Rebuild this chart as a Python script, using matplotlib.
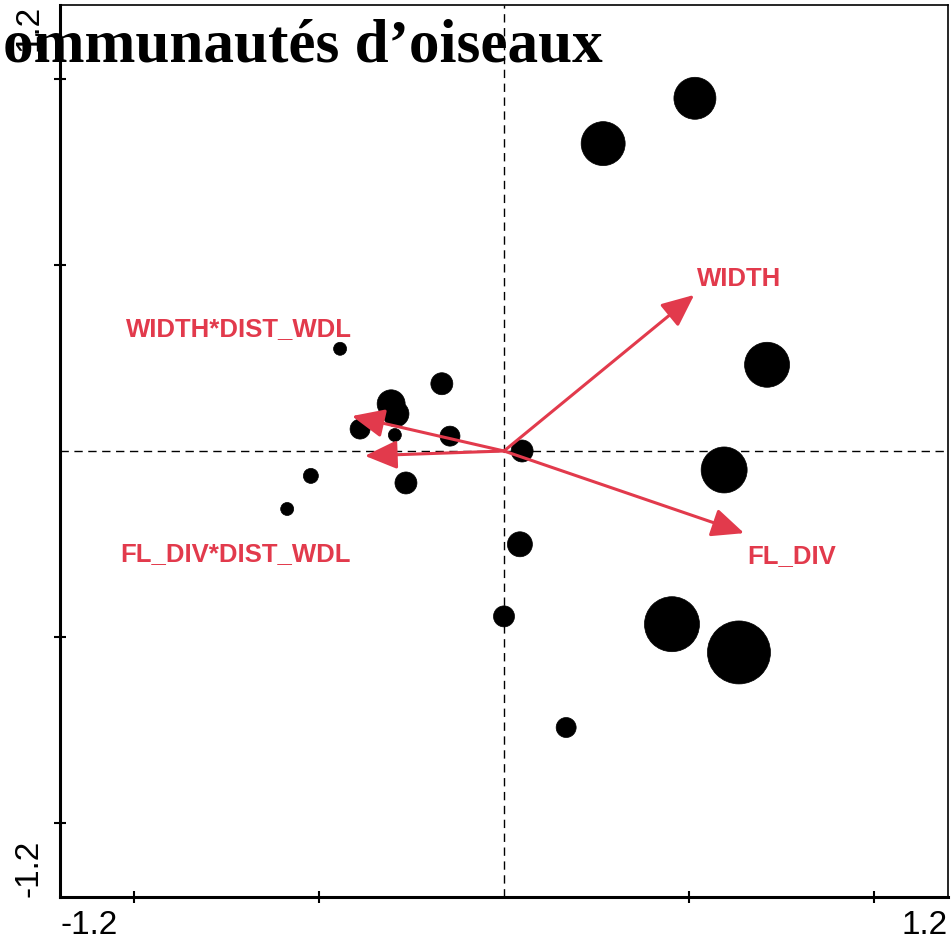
import numpy as np
import matplotlib
matplotlib.use("Agg")
import matplotlib.pyplot as plt

# sample scores (axis 1, axis 2) and symbol diameters (px)
site_x = [0.516, 0.268, 0.711, 0.595, 0.454, 0.635, 0.043, 0.000, 0.168, 0.049,
          -0.168, -0.305, -0.292, -0.389, -0.295, -0.146, -0.265, -0.443, -0.522, -0.586]
site_y = [0.949, 0.827, 0.232, -0.051, -0.466, -0.542, -0.251, -0.445, -0.744, 0.000,
          0.181, 0.127, 0.100, 0.059, 0.043, 0.040, -0.086, 0.275, -0.067, -0.156]
site_size = [42, 44, 45, 46, 55, 63, 25, 21, 20, 22,
             22, 28, 26, 20, 13, 20, 22, 13, 15, 13]

# environmental variables (arrow tips)
env_names = ["WIDTH", "FL_DIV", "WIDTH*DIST_WDL", "FL_DIV*DIST_WDL"]
env_x = [0.514, 0.649, -0.411, -0.376]
env_y = [0.420, -0.221, 0.094, -0.013]

axis_min, axis_max = -1.2, 1.2
title = "ommunautés d\u2019oiseaux"

RED = "#e23a4c"
DPI = 100

fig = plt.figure(figsize=(9.52, 9.48), dpi=DPI)
ax = fig.add_axes([60 / 952, 51 / 948, 888 / 952, 892 / 948])
ax.set_xlim(axis_min, axis_max)
ax.set_ylim(axis_min, axis_max)

# dashed zero lines
ax.axhline(0, color="black", lw=1.0, dashes=(6, 4), zorder=1)
ax.axvline(0, color="black", lw=1.0, dashes=(6, 4), zorder=1)

# sites, symbol area from diameter in px
sizes = [(d * 72 / DPI) ** 2 for d in site_size]
ax.scatter(site_x, site_y, s=sizes, c="black", edgecolors="black", linewidths=0.5, zorder=3)

# arrows + labels
label_offsets = {
    "WIDTH": ((2, 3), "left", "bottom"),
    "FL_DIV": ((2, -8), "left", "top"),
    "WIDTH*DIST_WDL": ((0, 54), "right", "bottom"),
    "FL_DIV*DIST_WDL": ((-10, -62), "right", "top"),
}
for name, x, y in zip(env_names, env_x, env_y):
    ax.annotate("", xy=(x, y), xytext=(0, 0),
                arrowprops=dict(arrowstyle="-|>,head_length=0.9,head_width=0.4",
                                color=RED, lw=2.2, mutation_scale=22,
                                shrinkA=0, shrinkB=0),
                zorder=4)
    off, ha, va = label_offsets[name]
    ax.annotate(name, xy=(x, y), xytext=off, textcoords="offset points",
                ha=ha, va=va, color=RED, fontsize=18.5, fontweight="bold",
                family=["Liberation Sans", "DejaVu Sans"], zorder=5)

# frame and ticks
for side in ["left", "bottom"]:
    ax.spines[side].set_linewidth(2.2)
for side in ["top", "right"]:
    ax.spines[side].set_linewidth(1.2)
ax.set_xticks([-1, -0.5, 0.5, 1])
ax.set_yticks([-1, -0.5, 0.5, 1])
ax.set_xticklabels([])
ax.set_yticklabels([])
ax.tick_params(direction="inout", length=9, width=1.5)

# range labels at the axis limits
tick_font = dict(fontsize=24, family=["Liberation Sans", "DejaVu Sans"])
ax.text(0.0, -0.015, f"{axis_min:.1f}", transform=ax.transAxes, ha="left", va="top", **tick_font)
ax.text(1.0, -0.015, f"{axis_max:.1f}", transform=ax.transAxes, ha="right", va="top", **tick_font)
ax.text(-0.035, 0.0, f"{axis_min:.1f}", transform=ax.transAxes, ha="center", va="bottom",
        rotation=90, **tick_font)
ax.text(-0.035, 1.0, f"{axis_max:.1f}", transform=ax.transAxes, ha="center", va="top",
        rotation=90, **tick_font)

fig.text(3 / 952, 1 - 62 / 948, title, ha="left", va="baseline", fontsize=44,
         fontweight="bold", family=["Liberation Serif", "DejaVu Serif"])

fig.savefig("out.png", dpi=DPI)
